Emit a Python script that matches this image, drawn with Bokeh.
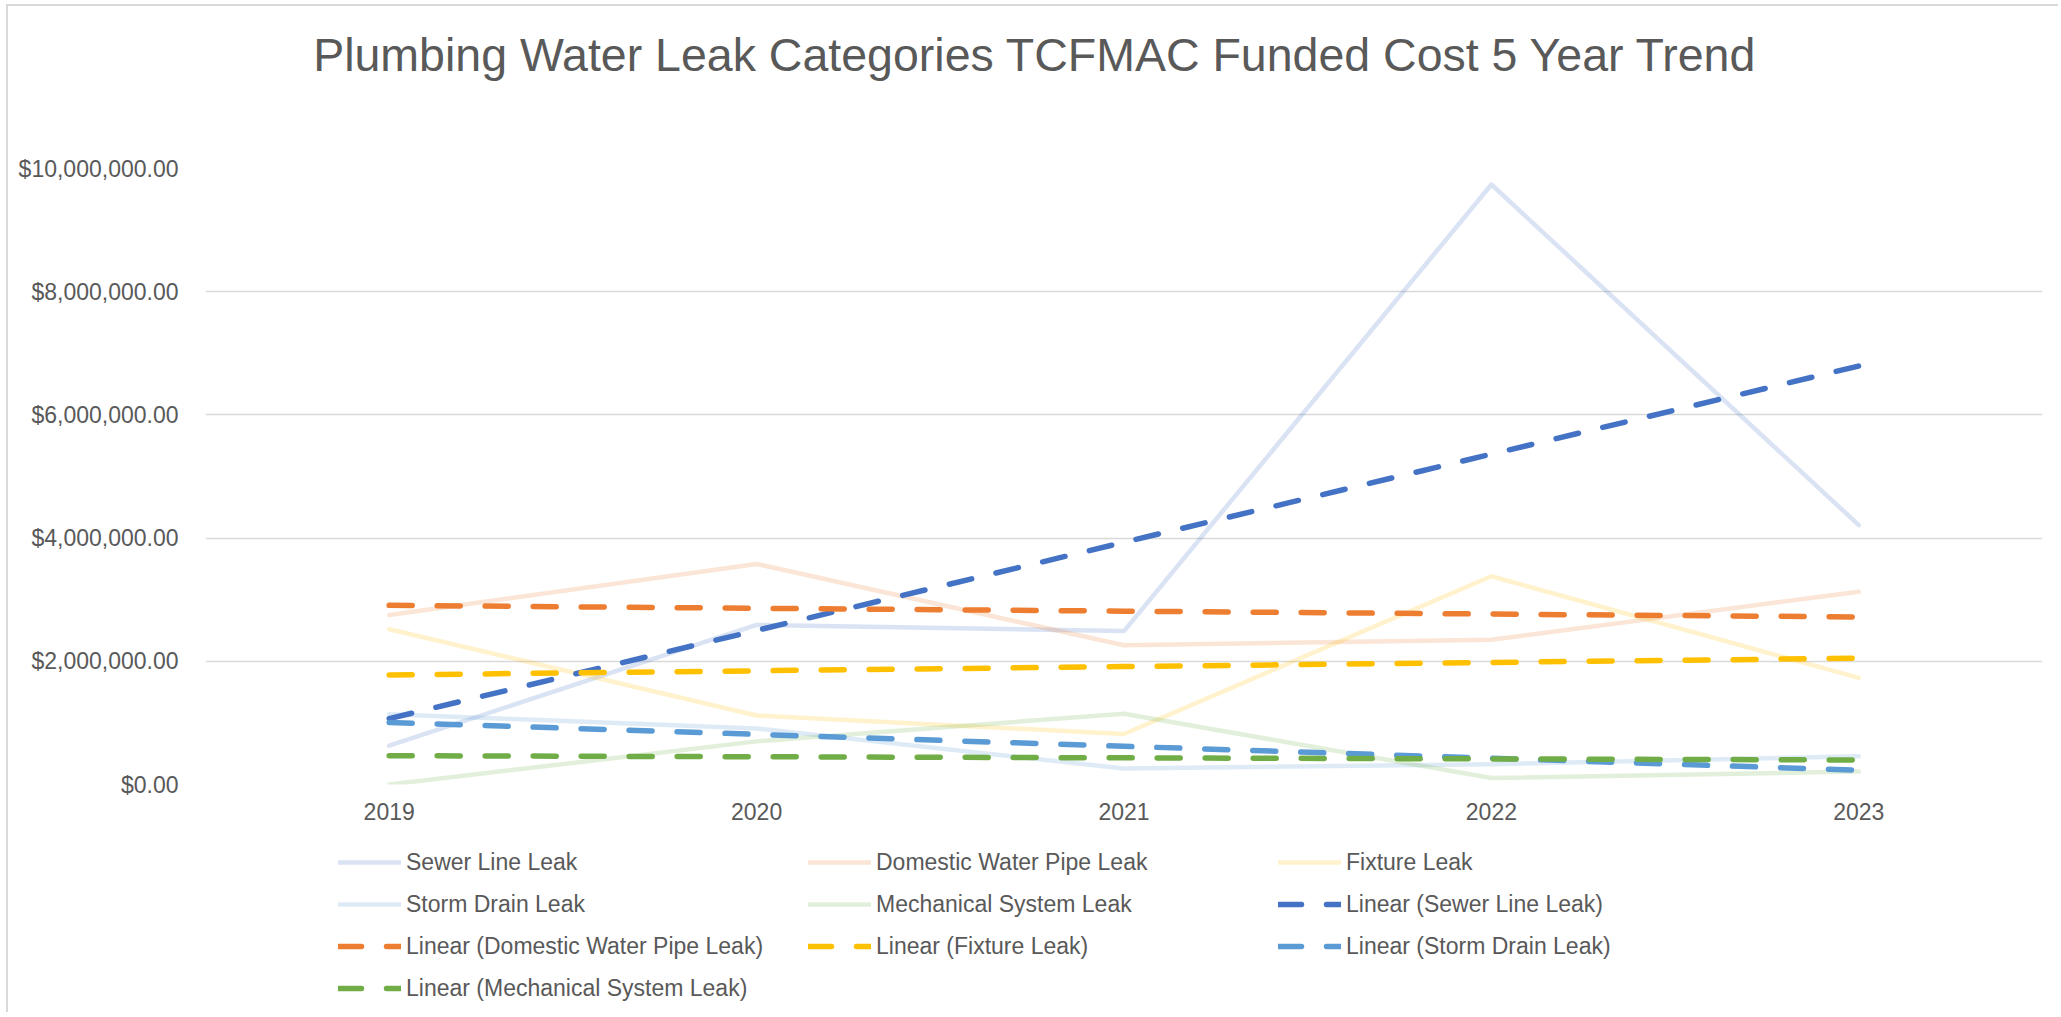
import numpy as np
from bokeh.plotting import figure
from bokeh.layouts import column
from bokeh.models import (FactorRange, Range1d, FixedTicker, NumeralTickFormatter,
                          Legend, LegendItem, Label)
from bokeh.embed import file_html
from bokeh.resources import INLINE

# ---------------- data ----------------
years = ["2019", "2020", "2021", "2022", "2023"]
sewer_line_leak = [630000, 2590000, 2490000, 9740000, 4210000]
domestic_water_pipe_leak = [2750000, 3580000, 2260000, 2350000, 3130000]
fixture_leak = [2520000, 1120000, 820000, 3380000, 1730000]
storm_drain_leak = [1140000, 910000, 260000, 330000, 460000]
mechanical_system_leak = [0, 700000, 1150000, 105000, 210000]
series_names = ["Sewer Line Leak", "Domestic Water Pipe Leak", "Fixture Leak",
                "Storm Drain Leak", "Mechanical System Leak"]
y_tick_values = [0, 2000000, 4000000, 6000000, 8000000, 10000000]
title_text = "Plumbing Water Leak Categories TCFMAC Funded Cost 5 Year Trend"

series_values = [sewer_line_leak, domestic_water_pipe_leak, fixture_leak,
                 storm_drain_leak, mechanical_system_leak]
base_colors = ["#4472C4", "#ED7D31", "#FFC000", "#5B9BD5", "#70AD47"]

FONT = "Liberation Sans"
TXT = "#595959"
W = 2050
FL, FR = 197, 2034          # frame left/right in figure px
H0 = 142                    # title strip
PT, PH, PB = 20, 616, 52    # main plot: top border, frame height, bottom border
H1 = PT + PH + PB
H2 = 176                    # legend strip
FRAME_W = FR - FL

SOLID = dict(line_alpha=0.2, line_width=4.5, line_join="round", line_cap="round")
TREND = dict(line_width=5.5, line_dash="23 25", line_cap="round")


def blank(height):
    f = figure(width=W, height=height, x_range=Range1d(0, FRAME_W),
               y_range=Range1d(0, height), output_backend="svg",
               toolbar_location=None, x_axis_location=None,
               y_axis_location=None, min_border=0,
               min_border_left=FL, min_border_right=W - FR)
    f.outline_line_color = None
    f.grid.grid_line_color = None
    f.background_fill_color = "white"
    f.border_fill_color = "white"
    return f


# ---------------- title strip ----------------
t = blank(H0)
t.add_layout(Label(x=830, y=H0 - 48, text=title_text, text_align="center",
                   text_baseline="alphabetic", text_font=FONT,
                   text_font_size="46.5px", text_color=TXT))

# ---------------- main chart ----------------
p = figure(width=W, height=H1, x_range=FactorRange(factors=years),
           y_range=Range1d(0, 10000000), output_backend="svg",
           toolbar_location=None, min_border_left=FL, min_border_right=W - FR,
           min_border_top=PT, min_border_bottom=PB)
p.outline_line_color = None
p.background_fill_color = "white"
p.border_fill_color = "white"

p.xgrid.grid_line_color = None
p.ygrid.grid_line_color = "#d9d9d9"
p.ygrid.grid_line_width = 1.5

for ax in (p.xaxis[0], p.yaxis[0]):
    ax.axis_line_color = None
    ax.major_tick_line_color = None
    ax.minor_tick_line_color = None
    ax.major_label_text_font = FONT
    ax.major_label_text_font_size = "23px"
    ax.major_label_text_color = TXT
p.xaxis[0].major_label_standoff = 12
p.yaxis[0].major_label_standoff = 21
p.yaxis[0].ticker = FixedTicker(ticks=y_tick_values)
p.yaxis[0].formatter = NumeralTickFormatter(format="$0,0.00")

idx = np.arange(len(years))
for vals, col in zip(series_values, base_colors):
    p.line(years, vals, line_color=col, **SOLID)
for vals, col in zip(series_values, base_colors):
    slope, icpt = np.polyfit(idx, np.array(vals, dtype=float), 1)
    p.line(years, slope * idx + icpt, line_color=col, **TREND)

# ---------------- legend strip ----------------
q = blank(H2)
nan2 = [np.nan, np.nan]
entries = []
for n, col in zip(series_names, base_colors):
    entries.append((n, q.line(nan2, nan2, line_color=col, **SOLID)))
for n, col in zip(series_names, base_colors):
    entries.append(("Linear (%s)" % n, q.line(nan2, nan2, line_color=col, **TREND)))

ITEM_H = 42
leg = Legend(items=[LegendItem(label=s, renderers=[r]) for s, r in entries],
             ncols=3, orientation="horizontal", location=(133, 3),
             label_text_font=FONT, label_text_font_size="23px",
             label_text_color=TXT, glyph_width=63, glyph_height=ITEM_H,
             label_height=ITEM_H, label_width=402, spacing=0, padding=0,
             margin=0, label_standoff=5, border_line_color=None,
             background_fill_alpha=0)
q.add_layout(leg, "center")

layout = column(t, p, q, spacing=0,
                styles={"margin-left": "6px", "margin-top": "4px",
                        "border-left": "2px solid #d9d9d9",
                        "border-top": "2px solid #d9d9d9"})

open("out.html", "w").write(file_html(layout, INLINE))
